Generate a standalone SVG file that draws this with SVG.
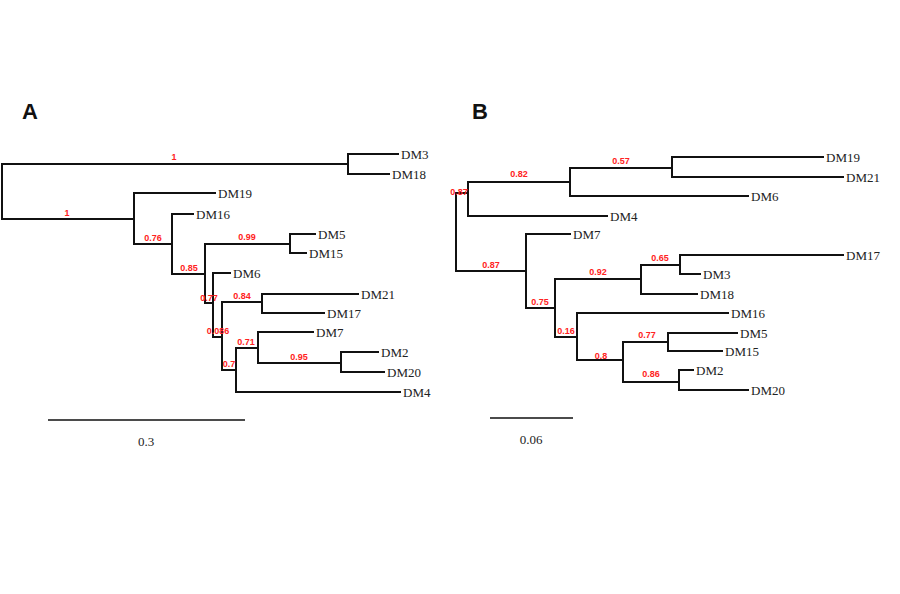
<svg xmlns="http://www.w3.org/2000/svg" width="900" height="594" viewBox="0 0 900 594">
<style>
.b{fill:none;stroke:#111;stroke-width:2;stroke-linecap:square}
.t{font-family:"Liberation Serif",serif;font-size:13px;fill:#222}
.s{font-family:"Liberation Sans",sans-serif;font-size:9px;font-weight:bold;fill:#f22;text-anchor:middle}
.h{font-family:"Liberation Sans",sans-serif;font-size:22px;font-weight:bold;fill:#111}
</style>
<rect width="900" height="594" fill="#fff"/>
<text class="h" x="22" y="119">A</text>
<text class="h" x="472" y="119">B</text>
<g id="connectors">
<path class="b" d="M2,164V219 M2,164H348 M348,154V174 M348,154H398 M348,174H389 M2,219H134 M134,193V244 M134,193H215 M134,244H172 M172,214V274 M172,214H193 M172,274H205 M205,244V303 M205,244H290 M290,234V253 M290,234H315 M290,253H306 M205,303H213 M213,273V337 M213,273H230 M213,337H222 M222,302V370 M222,302H262 M262,294V313 M262,294H358 M262,313H324 M222,370H236 M236,348V392 M236,348H258 M236,392H400 M258,332V363 M258,332H313 M258,363H341 M341,352V372 M341,352H378 M341,372H384"/>
<path class="b" d="M456,193V271 M456,193H468 M468,182V216 M468,182H570 M468,216H607 M570,168V196 M570,168H672 M570,196H748 M672,157V177 M672,157H823 M672,177H843 M456,271H526 M526,234V308 M526,234H570 M526,308H555 M555,279V337 M555,279H641 M641,265V294 M641,265H680 M641,294H697 M680,255V274 M680,255H843 M680,274H700 M555,337H577 M577,313V360 M577,313H728 M577,360H623 M623,342V382 M623,342H668 M623,382H679 M668,333V351 M668,333H737 M668,351H722 M679,370V390 M679,370H693 M679,390H748"/>
<path class="b" d="M48,420H245 M490,418H573" style="stroke-width:1.5;stroke-linecap:butt"/>
</g>
<g id="treeA-labels">
<text class="t" x="401" y="159">DM3</text><text class="t" x="392" y="179">DM18</text>
<text class="t" x="218" y="198">DM19</text><text class="t" x="196" y="219">DM16</text>
<text class="t" x="318" y="239">DM5</text><text class="t" x="309" y="258">DM15</text>
<text class="t" x="233" y="278">DM6</text><text class="t" x="361" y="299">DM21</text>
<text class="t" x="327" y="318">DM17</text><text class="t" x="316" y="337">DM7</text>
<text class="t" x="381" y="357">DM2</text><text class="t" x="387" y="377">DM20</text>
<text class="t" x="403" y="397">DM4</text>
<text class="t" x="146" y="446" text-anchor="middle">0.3</text>
</g>
<g id="treeA-support">
<text class="s" x="174" y="160">1</text><text class="s" x="67" y="216">1</text>
<text class="s" x="153" y="241">0.76</text><text class="s" x="189" y="271">0.85</text>
<text class="s" x="247" y="240">0.99</text><text class="s" x="209" y="301">0.77</text>
<text class="s" x="242" y="299">0.84</text><text class="s" x="218" y="334">0.086</text>
<text class="s" x="246" y="345">0.71</text><text class="s" x="299" y="360">0.95</text>
<text class="s" x="229" y="367">0.7</text>
</g>
<g id="treeB-labels">
<text class="t" x="826" y="162">DM19</text><text class="t" x="846" y="182">DM21</text>
<text class="t" x="751" y="201">DM6</text><text class="t" x="610" y="221">DM4</text>
<text class="t" x="573" y="239">DM7</text><text class="t" x="846" y="260">DM17</text>
<text class="t" x="703" y="279">DM3</text><text class="t" x="700" y="299">DM18</text>
<text class="t" x="731" y="318">DM16</text><text class="t" x="740" y="338">DM5</text>
<text class="t" x="725" y="356">DM15</text><text class="t" x="696" y="375">DM2</text>
<text class="t" x="751" y="395">DM20</text>
<text class="t" x="531" y="444" text-anchor="middle">0.06</text>
</g>
<g id="treeB-support">
<text class="s" x="621" y="164">0.57</text><text class="s" x="519" y="177">0.82</text>
<text class="s" x="459" y="195">0.87</text><text class="s" x="491" y="268">0.87</text>
<text class="s" x="660" y="261">0.65</text><text class="s" x="598" y="275">0.92</text>
<text class="s" x="540" y="305">0.75</text><text class="s" x="566" y="334">0.16</text>
<text class="s" x="647" y="338">0.77</text><text class="s" x="601" y="359">0.8</text>
<text class="s" x="651" y="377">0.86</text>
</g>
</svg>
